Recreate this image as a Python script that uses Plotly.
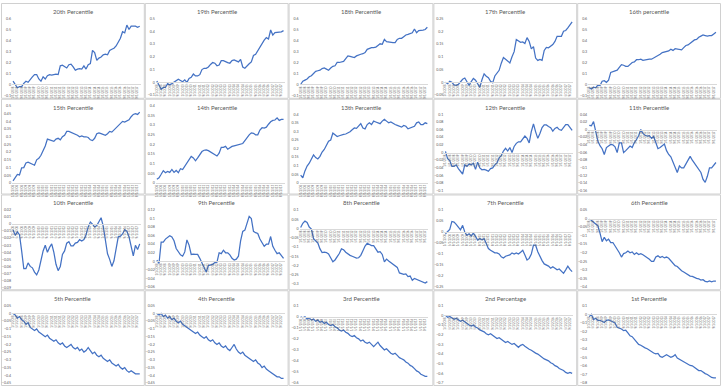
import plotly.graph_objects as go

# ---------------- data ----------------
DATES = ["1/1/2008", "3/1/2008", "5/1/2008", "7/1/2008", "9/1/2008", "11/1/2008",
         "1/1/2009", "3/1/2009", "5/1/2009", "7/1/2009", "9/1/2009", "11/1/2009",
         "1/1/2010", "3/1/2010", "5/1/2010", "7/1/2010", "9/1/2010", "11/1/2010",
         "1/1/2011", "3/1/2011", "5/1/2011", "7/1/2011", "9/1/2011", "11/1/2011",
         "1/1/2012", "3/1/2012", "5/1/2012", "7/1/2012", "9/1/2012", "11/1/2012",
         "1/1/2013", "3/1/2013", "5/1/2013", "7/1/2013", "9/1/2013", "11/1/2013",
         "1/1/2014", "3/1/2014", "5/1/2014", "7/1/2014", "9/1/2014", "11/1/2014",
         "1/1/2015", "3/1/2015", "5/1/2015", "7/1/2015", "9/1/2015", "11/1/2015",
         "1/1/2016", "3/1/2016", "5/1/2016", "7/1/2016", "9/1/2016", "11/1/2016",
         "1/1/2017", "3/1/2017", "5/1/2017", "7/1/2017", "9/1/2017", "11/1/2017"]

TITLES = ["20th Percentile", "19th Percentile", "18th Percentile", "17th Percentile", "16th percentile",
          "15th Percentile", "14th Percentile", "13th Percentile", "12th Percentile", "11th Percentile",
          "10th Percentile", "9th Percentile", "8th Percentile", "7th Percentile", "6th Percentile",
          "5th Percentile", "4th Percentile", "3rd Percentile", "2nd Percentage", "1st Percentile"]

Y_MIN = [-0.1, -0.1, -0.1, -0.05, -0.1,
         0.0, 0.0, 0.0, -0.1, -0.16,
         -0.09, -0.06, -0.3, -0.25, -0.4,
         -0.45, -0.45, -0.6, -0.7, -0.8]
Y_MAX = [0.6, 0.5, 0.6, 0.25, 0.6,
         0.5, 0.4, 0.4, 0.1, 0.04,
         0.02, 0.12, 0.1, 0.1, 0.05,
         0.05, 0.05, 0.1, 0.1, 0.1]
Y_STEP = [0.1, 0.1, 0.1, 0.05, 0.1,
          0.05, 0.05, 0.05, 0.02, 0.02,
          0.01, 0.02, 0.05, 0.05, 0.05,
          0.05, 0.05, 0.1, 0.1, 0.1]

p20 = [0.03, 0.0, -0.03, -0.02, -0.02, 0.01, 0.03, 0.02, 0.05, 0.07,
       0.09, 0.09, 0.05, 0.03, 0.07, 0.05, 0.08, 0.09, 0.085, 0.09,
       0.095, 0.09, 0.17, 0.175, 0.16, 0.15, 0.18, 0.185, 0.16, 0.13,
       0.14, 0.145, 0.14, 0.17, 0.14, 0.18, 0.19, 0.31, 0.29, 0.22,
       0.24, 0.25, 0.27, 0.275, 0.27, 0.31, 0.32, 0.33, 0.35, 0.39,
       0.42, 0.48, 0.47, 0.54, 0.50, 0.53, 0.53, 0.53, 0.52, 0.53]
p19 = [0.01, -0.02, -0.055, -0.04, -0.04, -0.01, -0.02, -0.01, 0.0, 0.01,
       0.025, 0.015, 0.005, 0.02, 0.0, 0.03, 0.04, 0.065, 0.05, 0.05,
       0.06, 0.10, 0.11, 0.11, 0.12, 0.14, 0.155, 0.15, 0.13, 0.135,
       0.17, 0.17, 0.16, 0.155, 0.15, 0.17, 0.175, 0.165, 0.16, 0.18,
       0.12, 0.11, 0.13, 0.145, 0.16, 0.21, 0.22, 0.25, 0.28, 0.31,
       0.33, 0.35, 0.34, 0.41, 0.37, 0.39, 0.39, 0.39, 0.395, 0.405]
p18 = [0.0, 0.03, 0.04, 0.05, 0.07, 0.08, 0.10, 0.12, 0.125, 0.13,
       0.145, 0.15, 0.14, 0.13, 0.15, 0.165, 0.17, 0.2, 0.2, 0.205,
       0.21, 0.235, 0.26, 0.255, 0.25, 0.245, 0.26, 0.27, 0.275, 0.28,
       0.29, 0.32, 0.33, 0.335, 0.335, 0.34, 0.355, 0.37, 0.365, 0.41,
       0.39, 0.385, 0.385, 0.38, 0.38, 0.41, 0.42, 0.42, 0.435, 0.45,
       0.455, 0.465, 0.47, 0.505, 0.47, 0.49, 0.49, 0.495, 0.5, 0.52]
p17 = [0.0, -0.005, 0.004, 0.0, -0.01, -0.012, -0.008, 0.002, 0.012, 0.017,
       0.001, -0.012, 0.003, 0.015, 0.008, -0.005, -0.02, 0.01, 0.033, 0.024,
       0.018, 0.004, -0.002, 0.025, 0.034, 0.047, 0.075, 0.097, 0.09, 0.084,
       0.076, 0.1, 0.12, 0.168, 0.163, 0.157, 0.158, 0.152, 0.175, 0.16,
       0.131, 0.14, 0.095, 0.086, 0.09, 0.086, 0.125, 0.137, 0.135, 0.14,
       0.148, 0.16, 0.18, 0.18, 0.18, 0.2, 0.203, 0.213, 0.225, 0.237]
p16 = [-0.03, -0.04, -0.025, -0.03, -0.005, -0.01, 0.03, 0.035, 0.02, 0.04,
       0.11, 0.115, 0.125, 0.13, 0.155, 0.18, 0.175, 0.165, 0.165, 0.185,
       0.2, 0.205, 0.225, 0.225, 0.23, 0.22, 0.225, 0.225, 0.23, 0.23,
       0.24, 0.255, 0.265, 0.275, 0.29, 0.295, 0.3, 0.305, 0.32, 0.31,
       0.325, 0.32, 0.32, 0.315, 0.335, 0.355, 0.36, 0.375, 0.39, 0.405,
       0.41, 0.43, 0.44, 0.45, 0.445, 0.44, 0.445, 0.445, 0.46, 0.475]
p15 = [0.013, 0.035, 0.055, 0.052, 0.098, 0.1, 0.13, 0.135, 0.13, 0.12,
       0.115, 0.15, 0.16, 0.18, 0.21, 0.24, 0.285, 0.28, 0.275, 0.27,
       0.285, 0.29, 0.28, 0.3, 0.31, 0.335, 0.335, 0.33, 0.32, 0.315,
       0.31, 0.3, 0.305, 0.3, 0.3, 0.295, 0.28, 0.275, 0.29, 0.32,
       0.325, 0.32, 0.315, 0.31, 0.32, 0.335, 0.33, 0.345, 0.355, 0.37,
       0.39, 0.4, 0.395, 0.405, 0.41, 0.43, 0.445, 0.45, 0.445, 0.46]
p14 = [0.019, 0.027, 0.045, 0.064, 0.053, 0.06, 0.055, 0.07, 0.055, 0.065,
       0.053, 0.074, 0.07, 0.087, 0.103, 0.12, 0.138, 0.13, 0.115, 0.13,
       0.15, 0.163, 0.17, 0.172, 0.168, 0.16, 0.155, 0.147, 0.14, 0.155,
       0.185, 0.185, 0.19, 0.175, 0.185, 0.19, 0.193, 0.196, 0.2, 0.2,
       0.205, 0.22, 0.237, 0.25, 0.26, 0.258, 0.25, 0.25, 0.275, 0.287,
       0.285, 0.29, 0.305, 0.318, 0.325, 0.327, 0.338, 0.325, 0.33, 0.33]
p13 = [0.046, 0.03, 0.07, 0.098, 0.115, 0.14, 0.163, 0.148, 0.14, 0.155,
       0.18, 0.195, 0.22, 0.243, 0.25, 0.29, 0.28, 0.27, 0.275, 0.28,
       0.283, 0.285, 0.29, 0.298, 0.31, 0.32, 0.318, 0.335, 0.345, 0.32,
       0.315, 0.34, 0.35, 0.34, 0.36, 0.355, 0.35, 0.345, 0.36, 0.37,
       0.36, 0.35, 0.355, 0.345, 0.34, 0.335, 0.33, 0.325, 0.335, 0.33,
       0.315, 0.32, 0.325, 0.33, 0.35, 0.355, 0.34, 0.34, 0.35, 0.345]
p12 = [0.003, -0.016, -0.021, -0.036, -0.036, -0.032, -0.042, -0.05, -0.056, -0.032,
       -0.036, -0.03, -0.032, -0.028, -0.044, -0.025, -0.04, -0.045, -0.044, -0.046,
       -0.049, -0.042, -0.04, -0.032, -0.027, -0.014, -0.008, 0.004, 0.011, 0.004,
       0.013, 0.0, 0.016, 0.024, 0.028, 0.028, 0.037, 0.043, 0.037, 0.025,
       0.055, 0.075, 0.054, 0.037, 0.05, 0.065, 0.072, 0.072, 0.068, 0.065,
       0.056, 0.063, 0.066, 0.06, 0.058, 0.067, 0.073, 0.073, 0.066, 0.058]
p11 = [0.011, 0.01, 0.021, -0.004, -0.03, -0.042, -0.05, -0.065, -0.047, -0.043,
       -0.039, -0.04, -0.045, -0.06, -0.035, -0.035, -0.06, -0.055, -0.049, -0.043,
       -0.047, -0.034, -0.026, -0.016, 0.0, -0.01, -0.015, -0.017, -0.016, -0.023,
       -0.018, -0.033, -0.05, -0.047, -0.042, -0.038, -0.055, -0.065, -0.071, -0.085,
       -0.1, -0.112, -0.095, -0.1, -0.1, -0.09, -0.082, -0.07, -0.08, -0.088,
       -0.098, -0.105, -0.112, -0.13, -0.138, -0.122, -0.1, -0.1, -0.092, -0.086]
p10 = [-0.008, -0.016, -0.011, -0.015, -0.038, -0.063, -0.063, -0.055, -0.06, -0.062,
       -0.068, -0.072, -0.065, -0.05, -0.038, -0.03, -0.04, -0.033, -0.028, -0.04,
       -0.057, -0.066, -0.06, -0.043, -0.038, -0.027, -0.025, -0.031, -0.031, -0.027,
       -0.026, -0.022, -0.024, -0.022, -0.015, -0.004, 0.003, 0.0, -0.004, -0.002,
       0.004, 0.009, -0.003, -0.025, -0.042, -0.05, -0.06, -0.052, -0.035, -0.018,
       -0.017, -0.014, -0.008, -0.01, -0.018, -0.03, -0.045, -0.03, -0.036, -0.028]
p9 = [0.003, -0.005, 0.045, 0.045, 0.052, 0.055, 0.06, 0.057, 0.048, 0.03,
      0.022, 0.015, 0.012, 0.022, 0.05, 0.038, 0.016, 0.017, 0.016, 0.016,
      0.007, -0.005, -0.016, -0.025, -0.01, -0.008, -0.007, -0.003, -0.002, 0.02,
      0.018, 0.026, 0.02, 0.02, 0.015, 0.007, 0.003, 0.005, 0.012, 0.048,
      0.07, 0.073, 0.09, 0.105, 0.1, 0.07, 0.067, 0.065, 0.052, 0.042,
      0.035, 0.04, 0.04, 0.058, 0.035, 0.026, 0.018, 0.02, 0.013, 0.007]
p8 = [0.005, 0.028, 0.04, 0.033, 0.008, -0.003, -0.055, -0.066, -0.078, -0.11,
      -0.13, -0.128, -0.13, -0.138, -0.156, -0.18, -0.17, -0.155, -0.135, -0.11,
      -0.115, -0.128, -0.138, -0.145, -0.15, -0.155, -0.16, -0.158, -0.145, -0.12,
      -0.095, -0.08, -0.087, -0.092, -0.093, -0.11, -0.128, -0.125, -0.14, -0.18,
      -0.165, -0.175, -0.183, -0.19, -0.2, -0.21, -0.24, -0.245, -0.248, -0.245,
      -0.26, -0.257, -0.28, -0.27, -0.275, -0.278, -0.283, -0.288, -0.295, -0.287]
p7 = [-0.008, 0.0, 0.012, 0.048, 0.045, 0.035, 0.022, 0.01, 0.03, 0.0,
      -0.015, -0.008, -0.018, -0.005, -0.02, -0.037, -0.03, -0.035, -0.03, -0.055,
      -0.075, -0.083, -0.088, -0.095, -0.095, -0.1, -0.113, -0.118, -0.11, -0.108,
      -0.104, -0.095, -0.1, -0.095, -0.1, -0.092, -0.083, -0.105, -0.127, -0.12,
      -0.1, -0.06, -0.06, -0.09, -0.113, -0.13, -0.145, -0.15, -0.155, -0.165,
      -0.158, -0.165, -0.172, -0.168, -0.18, -0.188, -0.172, -0.155, -0.17, -0.18]
p6 = [-0.004, -0.01, -0.022, -0.032, -0.042, -0.085, -0.135, -0.11, -0.13, -0.12,
      -0.14, -0.14, -0.16, -0.175, -0.2, -0.225, -0.205, -0.2, -0.19, -0.2,
      -0.195, -0.21, -0.2, -0.21, -0.205, -0.212, -0.22, -0.232, -0.238, -0.25,
      -0.25, -0.225, -0.218, -0.228, -0.222, -0.23, -0.225, -0.232, -0.245, -0.26,
      -0.275, -0.28, -0.295, -0.305, -0.312, -0.32, -0.328, -0.336, -0.338, -0.345,
      -0.35, -0.352, -0.36, -0.357, -0.367, -0.37, -0.365, -0.37, -0.365, -0.365]
p5 = [0.0, -0.01, -0.03, -0.02, -0.04, -0.05, -0.07, -0.06, -0.09, -0.1,
      -0.11, -0.1, -0.12, -0.13, -0.14, -0.15, -0.14, -0.16, -0.17, -0.18,
      -0.17, -0.19, -0.2, -0.19, -0.21, -0.22, -0.21, -0.2, -0.22, -0.23,
      -0.22, -0.24, -0.23, -0.25, -0.24, -0.22, -0.24, -0.26, -0.25, -0.27,
      -0.28, -0.27, -0.29, -0.3, -0.31, -0.3, -0.32, -0.33, -0.34, -0.33,
      -0.35, -0.36, -0.35, -0.37, -0.38, -0.37, -0.38, -0.39, -0.39, -0.39]
p4 = [0.0, -0.01, 0.0, -0.02, -0.01, -0.03, -0.02, -0.04, -0.03, -0.05,
      -0.06, -0.05, -0.07, -0.08, -0.09, -0.1, -0.11, -0.12, -0.13, -0.12,
      -0.14, -0.15, -0.16, -0.15, -0.17, -0.18, -0.17, -0.19, -0.2, -0.19,
      -0.21, -0.22, -0.21, -0.23, -0.24, -0.22, -0.2, -0.23, -0.25, -0.26,
      -0.25, -0.27, -0.28, -0.29, -0.3, -0.31, -0.3, -0.32, -0.33, -0.35,
      -0.34, -0.36, -0.37, -0.38, -0.39, -0.4, -0.41, -0.41, -0.42, -0.42]
p3 = [0.0, -0.01, 0.0, -0.02, -0.01, -0.03, -0.02, -0.04, -0.03, -0.05,
      -0.04, -0.06, -0.05, -0.07, -0.08, -0.07, -0.09, -0.1, -0.12, -0.13,
      -0.12, -0.14, -0.15, -0.17, -0.18, -0.17, -0.19, -0.2, -0.22, -0.21,
      -0.23, -0.24, -0.23, -0.25, -0.27, -0.25, -0.23, -0.26, -0.28, -0.3,
      -0.29, -0.31, -0.33, -0.34, -0.33, -0.35, -0.37, -0.38, -0.39, -0.41,
      -0.42, -0.44, -0.45, -0.47, -0.49, -0.5, -0.52, -0.53, -0.54, -0.54]
p2 = [0.0, -0.02, -0.01, -0.03, -0.04, -0.03, -0.05, -0.06, -0.05, -0.07,
      -0.08, -0.1, -0.11, -0.1, -0.12, -0.13, -0.15, -0.16, -0.17, -0.19,
      -0.2, -0.19, -0.21, -0.23, -0.24, -0.23, -0.25, -0.26, -0.28, -0.27,
      -0.29, -0.3, -0.29, -0.31, -0.33, -0.31, -0.3, -0.32, -0.34, -0.35,
      -0.36, -0.38, -0.39, -0.4, -0.42, -0.43, -0.45, -0.46, -0.47, -0.49,
      -0.5, -0.52, -0.53, -0.55, -0.56, -0.57, -0.59, -0.6, -0.59, -0.6]
p1 = [-0.027, 0.0, -0.06, -0.045, -0.07, -0.07, -0.08, -0.095, -0.07, -0.065,
      -0.075, -0.085, -0.1, -0.15, -0.16, -0.17, -0.19, -0.185, -0.215, -0.25,
      -0.26, -0.29, -0.33, -0.35, -0.36, -0.38, -0.39, -0.4, -0.42, -0.44,
      -0.45, -0.46, -0.455, -0.49, -0.5, -0.485, -0.47, -0.485, -0.5, -0.49,
      -0.47, -0.51, -0.525, -0.54, -0.56, -0.565, -0.58, -0.595, -0.6, -0.62,
      -0.64, -0.655, -0.655, -0.675, -0.69, -0.7, -0.72, -0.735, -0.74, -0.74]

SERIES = [p20, p19, p18, p17, p16, p15, p14, p13, p12, p11,
          p10, p9, p8, p7, p6, p5, p4, p3, p2, p1]

# ---------------- layout ----------------
W, H = 721, 388
COL_EDGES = [0, 144, 288, 433, 577, 721]
ROW_EDGES = [0, 97, 194, 291, 388]
PLOT_LEFT, PLOT_RIGHT = 11, 140
TOP_REL = [15.7, 15.7, 15.7, 15.7, 15.7,
           7.3, 7.3, 15.7, 15.7, 15.7,
           15.7, 15.7, 15.7, 15.7, 15.7,
           15.7, 15.7, 15.7, 15.7, 15.7]
BOT_REL = [93.7, 93.3, 93.7, 93.3, 93.7,
           85.3, 85.3, 85.3, 93.3, 93.3,
           94.3, 93.7, 90.7, 93.7, 93.7,
           94.0, 94.0, 94.0, 94.0, 94.0]

LINE_COLOR = "#4472C4"
TEXT_COLOR = "#595959"
AXIS_COLOR = "#D9D9D9"
FONT = "Lato"

fig = go.Figure()
layout = dict(width=W, height=H, autosize=False, margin=dict(l=0, r=0, t=0, b=0),
              paper_bgcolor="white", plot_bgcolor="rgba(0,0,0,0)",
              showlegend=False, font=dict(family=FONT, color=TEXT_COLOR))
shapes = []
annotations = []

for k in range(20):
    r, c = divmod(k, 5)
    L, R = COL_EDGES[c], COL_EDGES[c + 1]
    T, B = ROW_EDGES[r], ROW_EDGES[r + 1]
    shapes.append(dict(type="rect", xref="paper", yref="paper",
                       x0=(L + 0.5) / W, x1=(R - 0.5) / W,
                       y0=1 - (B - 0.5) / H, y1=1 - (T + 0.5) / H,
                       line=dict(color="#D0D0D0", width=1), fillcolor="white", layer="below"))
    x0 = (L + PLOT_LEFT) / W
    x1 = (L + PLOT_RIGHT) / W
    top_px = T + TOP_REL[k]
    bot_px = T + BOT_REL[k]
    y1 = 1 - top_px / H
    y0 = 1 - bot_px / H
    ymin, ymax = Y_MIN[k], Y_MAX[k]
    zero_px = top_px + (ymax - 0.0) / (ymax - ymin) * (bot_px - top_px)
    xpos = 1 - zero_px / H

    xn = "x" if k == 0 else f"x{k+1}"
    yn = "y" if k == 0 else f"y{k+1}"
    xa = "xaxis" if k == 0 else f"xaxis{k+1}"
    ya = "yaxis" if k == 0 else f"yaxis{k+1}"

    fig.add_trace(go.Scatter(x=DATES, y=SERIES[k], mode="lines",
                             line=dict(color=LINE_COLOR, width=1.25),
                             xaxis=xn, yaxis=yn, hoverinfo="skip"))

    layout[xa] = dict(domain=[x0, x1], anchor="free", position=xpos,
                      type="category", range=[-0.5, len(DATES) - 0.5],
                      showline=True, linecolor=AXIS_COLOR, linewidth=0.8,
                      showgrid=False, zeroline=False, ticks="",
                      tickmode="array", tickvals=DATES[::2], ticktext=DATES[::2],
                      tickangle=-90, tickfont=dict(size=2.8, color=TEXT_COLOR),
                      ticklabelstandoff=0, fixedrange=True)
    layout[ya] = dict(domain=[y0, y1], anchor="free", position=x0,
                      range=[ymin, ymax], dtick=Y_STEP[k], tick0=0,
                      showline=False, showgrid=False, zeroline=False, ticks="",
                      tickfont=dict(size=3.6, color=TEXT_COLOR),
                      ticklabelstandoff=1, fixedrange=True)

    annotations.append(dict(text=TITLES[k], xref="paper", yref="paper",
                            x=(L + R) / 2 / W, y=1 - (T + 8.5) / H,
                            xanchor="center", yanchor="middle", showarrow=False,
                            font=dict(size=6.0, color=TEXT_COLOR, family=FONT)))

layout["shapes"] = shapes
layout["annotations"] = annotations
fig.update_layout(**layout)
fig.write_html("out.html", config={"displayModeBar": False},
               post_script="document.body.style.margin='0';document.body.style.padding='0';"
                           "document.body.style.overflow='hidden';")
